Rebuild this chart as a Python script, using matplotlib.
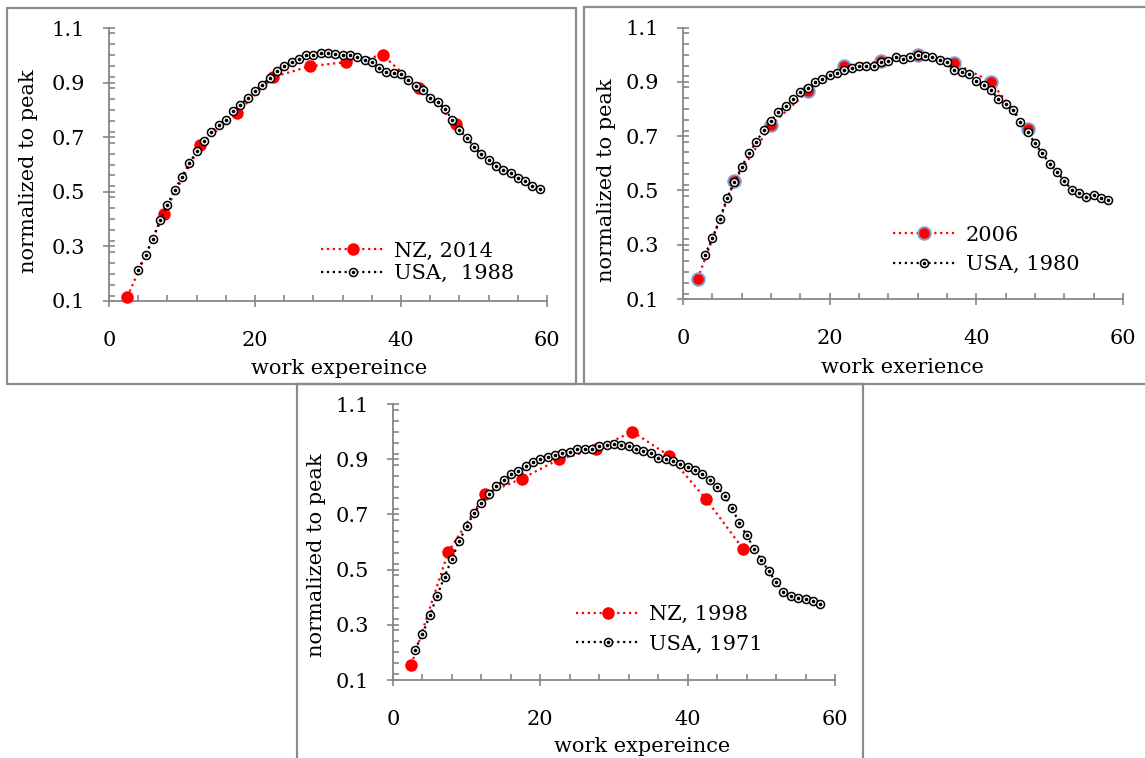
import matplotlib
matplotlib.use("Agg")
import matplotlib.pyplot as plt
from matplotlib.patches import Rectangle
from matplotlib.ticker import MultipleLocator
from matplotlib.legend_handler import HandlerTuple

W, H = 1145, 758

# ---- data ----
nz2014_x = [2.5, 7.5, 12.5, 17.5, 22.5, 27.5, 32.5, 37.5, 42.5, 47.5]
nz2014_y = [0.115, 0.42, 0.67, 0.79, 0.92, 0.96, 0.975, 1.0, 0.88, 0.75]
usa1988_x = list(range(4, 60))
usa1988_y = [0.215, 0.267, 0.328, 0.395, 0.453, 0.506, 0.556, 0.604, 0.649, 0.685,
             0.718, 0.746, 0.764, 0.795, 0.819, 0.843, 0.870, 0.892, 0.918, 0.942,
             0.962, 0.974, 0.988, 1.000, 1.000, 1.010, 1.007, 1.004, 1.000, 1.000,
             0.995, 0.982, 0.976, 0.955, 0.940, 0.934, 0.930, 0.910, 0.886, 0.873,
             0.845, 0.828, 0.804, 0.764, 0.725, 0.698, 0.665, 0.637, 0.616, 0.595,
             0.579, 0.568, 0.552, 0.538, 0.522, 0.512]

nz2006_x = [2, 7, 12, 17, 22, 27, 32, 37, 42, 47]
nz2006_y = [0.175, 0.535, 0.74, 0.865, 0.96, 0.975, 1.0, 0.97, 0.90, 0.725]
usa1980_x = list(range(3, 59))
usa1980_y = [0.262, 0.323, 0.393, 0.471, 0.530, 0.587, 0.636, 0.679, 0.722, 0.756,
             0.790, 0.812, 0.836, 0.863, 0.879, 0.898, 0.912, 0.924, 0.931, 0.945,
             0.949, 0.959, 0.959, 0.959, 0.974, 0.976, 0.990, 0.983, 0.990, 0.998,
             0.994, 0.990, 0.980, 0.974, 0.945, 0.937, 0.928, 0.904, 0.888, 0.869,
             0.836, 0.820, 0.796, 0.753, 0.716, 0.673, 0.636, 0.599, 0.569, 0.534,
             0.503, 0.491, 0.477, 0.483, 0.471, 0.464]

nz1998_x = [2.5, 7.5, 12.5, 17.5, 22.5, 27.5, 32.5, 37.5, 42.5, 47.5]
nz1998_y = [0.156, 0.564, 0.773, 0.830, 0.899, 0.936, 1.0, 0.912, 0.755, 0.576]
usa1971_x = list(range(3, 59))
usa1971_y = [0.209, 0.267, 0.334, 0.406, 0.475, 0.539, 0.604, 0.658, 0.705, 0.742,
             0.773, 0.802, 0.824, 0.845, 0.858, 0.875, 0.891, 0.901, 0.909, 0.915,
             0.923, 0.927, 0.937, 0.936, 0.937, 0.948, 0.951, 0.954, 0.951, 0.948,
             0.936, 0.929, 0.923, 0.905, 0.899, 0.894, 0.882, 0.872, 0.862, 0.845,
             0.823, 0.799, 0.767, 0.723, 0.670, 0.624, 0.576, 0.536, 0.494, 0.455,
             0.418, 0.403, 0.398, 0.394, 0.388, 0.374]

plt.rcParams['font.family'] = 'DejaVu Serif'
FS = 15
GRAY = '#868686'

fig = plt.figure(figsize=(W / 100, H / 100), dpi=100)


def box(l, t, r, b):
    return [l / W, 1 - b / H, (r - l) / W, (b - t) / H]


# panel frames
for (l, t, r, b) in [(7, 8, 576, 384), (584, 7, 1160, 384), (297, 384, 863, 775)]:
    fig.add_artist(Rectangle((l / W, 1 - b / H), (r - l) / W, (b - t) / H,
                             transform=fig.transFigure, fill=False,
                             ec='#8c8c8c', lw=1.6))


def panel(pos, nzx, nzy, ux, uy, nzlab, ulab, xlabel, xl_pos, yl_pos,
          leg_x, leg_y, lspace, blue_edge=False):
    ax = fig.add_axes(box(*pos))
    ax.set_xlim(0, 60)
    ax.set_ylim(0.1, 1.1)
    for s in ['top', 'right']:
        ax.spines[s].set_visible(False)
    for s in ['left', 'bottom']:
        ax.spines[s].set_color(GRAY)
        ax.spines[s].set_linewidth(1.3)
    ax.xaxis.set_major_locator(MultipleLocator(20))
    ax.xaxis.set_minor_locator(MultipleLocator(4))
    ax.yaxis.set_minor_locator(MultipleLocator(0.04))
    ax.set_yticks([0.1, 0.3, 0.5, 0.7, 0.9, 1.1])
    ax.set_yticklabels(['0.1', '0.3', '0.5', '0.7', '0.9', '1.1'])
    ax.tick_params(which='major', direction='inout', length=9, width=1.2,
                   color=GRAY, labelsize=FS)
    ax.tick_params(which='minor', direction='in', length=4.5, width=1.2,
                   color=GRAY)
    ax.tick_params(axis='y', which='major', pad=13)
    ax.tick_params(axis='x', which='major', pad=17)

    mec = '#7ba0cd' if blue_edge else 'red'
    l1, = ax.plot(nzx, nzy, ls=':', lw=1.6, color='red', marker='o', ms=9,
                  mfc='red', mec=mec, mew=1.4 if blue_edge else 0,
                  zorder=3, clip_on=False)
    l2, = ax.plot(ux, uy, ls=':', lw=1.6, color='black', marker='o', ms=5.8,
                  mfc='white', mec='black', mew=1.1, zorder=4, clip_on=False)
    l3, = ax.plot(ux, uy, ls='none', marker='o', ms=1.6, color='black',
                  zorder=5, clip_on=False)
    ax.legend([l1, (l2, l3)], [nzlab, ulab], loc='center left',
              bbox_to_anchor=(leg_x, leg_y), frameon=False, fontsize=FS,
              handlelength=3.0, handletextpad=0.5, labelspacing=lspace,
              borderpad=0, borderaxespad=0, numpoints=1,
              handler_map={tuple: HandlerTuple(ndivide=1, pad=0)})

    fig.text(xl_pos[0] / W, 1 - xl_pos[1] / H, xlabel, ha='center',
             va='center', fontsize=FS)
    fig.text(yl_pos[0] / W, 1 - yl_pos[1] / H, 'normalized to peak',
             ha='center', va='center', rotation=90, fontsize=FS)
    return ax


panel((109, 28, 547, 301), nz2014_x, nz2014_y, usa1988_x, usa1988_y,
      'NZ, 2014', 'USA,  1988', 'work expereince', (339, 369), (29, 171),
      0.485, 0.142, 0.15)
panel((683, 27.5, 1123, 299), nz2006_x, nz2006_y, usa1980_x, usa1980_y,
      '2006', 'USA, 1980', 'work exerience', (902, 368), (607, 180),
      0.477, 0.181, 0.5, blue_edge=True)
panel((393, 404, 835, 680), nz1998_x, nz1998_y, usa1971_x, usa1971_y,
      'NZ, 1998', 'USA, 1971', 'work expereince', (642, 747), (317, 555),
      0.415, 0.183, 0.5)

fig.savefig('out.png', dpi=100)
